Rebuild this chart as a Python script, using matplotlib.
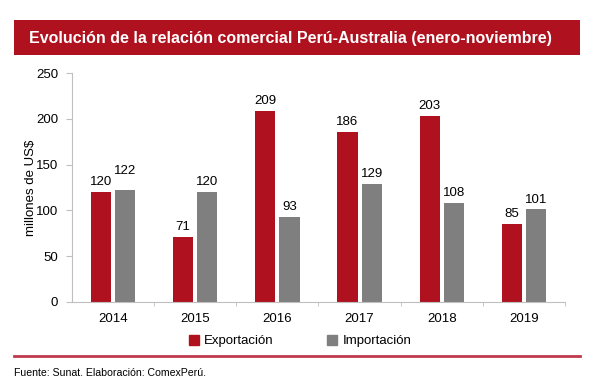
import matplotlib
matplotlib.use("Agg")
import matplotlib.pyplot as plt
import numpy as np
from matplotlib.patches import Rectangle
from matplotlib.lines import Line2D

plt.rcParams['font.family'] = ['Liberation Sans', 'DejaVu Sans']

years = ["2014", "2015", "2016", "2017", "2018", "2019"]
exportacion = [120, 71, 209, 186, 203, 85]
importacion = [122, 120, 93, 129, 108, 101]
yticks = [0, 50, 100, 150, 200, 250]

# label raise (points) above each bar, as placed in the original
exp_pad = [5, 5, 5, 5, 5, 5]
imp_pad = [12, 5, 5, 5, 5, 5]

RED = "#b0111e"
GREY = "#7f7f7f"

W, H = 594, 383
fig = plt.figure(figsize=(W/100, H/100), dpi=100)

# title banner
fig.patches.append(Rectangle((14/W, 1-55/H), (580-14)/W, 35/H, transform=fig.transFigure,
                             facecolor=RED, edgecolor='none'))
fig.text(29/W, 1-38/H, "Evolución de la relación comercial Perú-Australia (enero-noviembre)",
         color='white', fontsize=11.5, fontweight='bold', va='center', ha='left')

ax = fig.add_axes([72/W, 1-302/H, (565-72)/W, (302-73)/H])
x = np.arange(len(years))
bw = 0.245
gap = 0.05
off = (bw + gap) / 2
b1 = ax.bar(x - off, exportacion, bw, color=RED)
b2 = ax.bar(x + off, importacion, bw, color=GREY)
for rect, v, p in zip(b1, exportacion, exp_pad):
    ax.annotate(str(v), (rect.get_x() + rect.get_width()/2, v), xytext=(0, p),
                textcoords='offset points', ha='center', va='baseline', fontsize=9.5)
for rect, v, p in zip(b2, importacion, imp_pad):
    ax.annotate(str(v), (rect.get_x() + rect.get_width()/2, v), xytext=(0, p),
                textcoords='offset points', ha='center', va='baseline', fontsize=9.5)

ax.set_xlim(-0.5, len(years) - 0.5)
ax.set_ylim(0, 250)
ax.set_yticks(yticks)
ax.set_xticks(x)
ax.set_xticklabels(years)
ax.set_xticks(np.arange(len(years)) + 0.5, minor=True)
ax.tick_params(axis='both', labelsize=9.5, colors='#bfbfbf', labelcolor='black')
ax.tick_params(axis='x', which='major', length=0, pad=8)
ax.tick_params(axis='x', which='minor', length=3, color='#bfbfbf')
ax.tick_params(axis='y', length=4, pad=6)
for s in ['top', 'right']:
    ax.spines[s].set_visible(False)
for s in ['left', 'bottom']:
    ax.spines[s].set_color('#bfbfbf')
ax.set_ylabel("millones de US$", fontsize=9.5)
ax.yaxis.set_label_coords(-(72-31)/(565-72), 0.5)
ax.yaxis.label.set_va('center')

handles = [Rectangle((0, 0), 1, 1, color=RED), Rectangle((0, 0), 1, 1, color=GREY)]
fig.legend(handles, ["Exportación", "Importación"], loc='center', bbox_to_anchor=(300/W, 1-341/H),
           ncol=2, frameon=False, fontsize=9.5, handlelength=0.8, handleheight=0.8,
           handletextpad=0.4, columnspacing=4)

fig.lines.append(Line2D([14/W, 580/W], [1-356/H, 1-356/H], transform=fig.transFigure,
                        color='#bf3a4c', linewidth=2))
fig.text(14/W, 1-373/H, "Fuente: Sunat. Elaboración: ComexPerú.", fontsize=7.6, va='center', ha='left')

fig.savefig("out.png", dpi=100)
